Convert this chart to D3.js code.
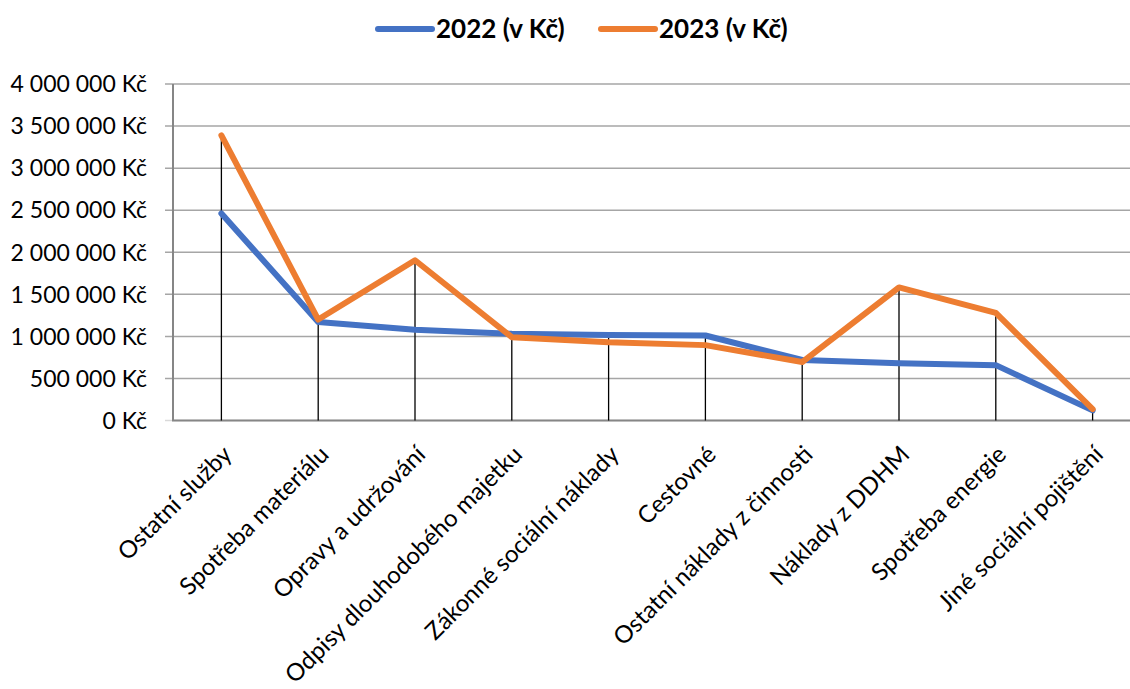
<!DOCTYPE html>
<html>
<head>
<meta charset="utf-8">
<script src="https://cdn.jsdelivr.net/npm/d3@7"></script>
<style>
  body { margin: 0; background: white; }
  text { font-family: Lato, "Open Sans", sans-serif; fill: black; }
</style>
</head>
<body>
<div class="chart"></div>
<script>
    var categories = ["Ostatní služby", "Spotřeba materiálu", "Opravy a udržování",
                      "Odpisy dlouhodobého majetku", "Zákonné sociální náklady", "Cestovné",
                      "Ostatní náklady z činnosti", "Náklady z DDHM", "Spotřeba energie",
                      "Jiné sociální pojištění"];
    var values2022 = [2460000, 1170000, 1080000, 1030000, 1015000, 1010000, 720000, 680000, 658000, 120000];
    var values2023 = [3390000, 1200000, 1905000, 990000, 930000, 896000, 695000, 1582000, 1280000, 135000];
    var yTicks = [0, 500000, 1000000, 1500000, 2000000, 2500000, 3000000, 3500000, 4000000];
    var seriesNames = ["2022 (v Kč)", "2023 (v Kč)"];
    var seriesColors = ["#4472C4", "#ED7D31"];

    var svg = d3.select(".chart")
                .append("svg")
                .attr("width", 1130)
                .attr("height", 689)
                .style("background-color", "white");

    var x = d3.scaleBand()
              .domain(categories)
              .range([173, 1141]);

    var y = d3.scaleLinear()
              .domain([0, 4000000])
              .range([420.5, 84]);

    var czk = d3.formatLocale({decimal: ",", thousands: "\u00a0", grouping: [3], currency: ["", " Kč"]});
    var fmt = czk.format(",");

    // gridlines
    svg.append("g")
       .selectAll("line")
       .data(yTicks)
       .enter()
       .append("line")
       .attr("x1", 165)
       .attr("x2", 1130)
       .attr("y1", function(d) { return y(d); })
       .attr("y2", function(d) { return y(d); })
       .attr("stroke", function(d) { return d === 0 ? "#d9d9d9" : "#a6a6a6"; })
       .attr("stroke-width", 1.5);

    // y tick labels
    svg.append("g")
       .selectAll("text")
       .data(yTicks)
       .enter()
       .append("text")
       .attr("x", 147)
       .attr("y", function(d) { return y(d); })
       .attr("dy", "0.36em")
       .attr("text-anchor", "end")
       .style("font-size", "23px")
       .text(function(d) { return fmt(d) + " Kč"; });

    // axis lines
    svg.append("line")
       .attr("x1", x.range()[0]).attr("x2", x.range()[0])
       .attr("y1", y(4000000)).attr("y2", y(0))
       .attr("stroke", "#868686").attr("stroke-width", 2);
    svg.append("line")
       .attr("x1", x.range()[0] - 1).attr("x2", 1130)
       .attr("y1", y(0)).attr("y2", y(0))
       .attr("stroke", "#868686").attr("stroke-width", 2);

    // drop lines
    svg.append("g")
       .selectAll("line")
       .data(categories)
       .enter()
       .append("line")
       .attr("x1", function(d) { return x(d) + x.bandwidth() / 2; })
       .attr("x2", function(d) { return x(d) + x.bandwidth() / 2; })
       .attr("y1", function(d, i) { return y(Math.max(values2022[i], values2023[i])); })
       .attr("y2", y(0))
       .attr("stroke", "black")
       .attr("stroke-width", 1.3);

    // series lines
    var line = d3.line()
                 .x(function(d, i) { return x(categories[i]) + x.bandwidth() / 2; })
                 .y(function(d) { return y(d); });

    [values2022, values2023].forEach(function(vals, k) {
      svg.append("path")
         .datum(vals)
         .attr("d", line)
         .attr("fill", "none")
         .attr("stroke", seriesColors[k])
         .attr("stroke-width", 6)
         .attr("stroke-linejoin", "round")
         .attr("stroke-linecap", "round");
    });

    // category labels
    svg.append("g")
       .selectAll("text")
       .data(categories)
       .enter()
       .append("text")
       .attr("transform", function(d) {
         return "translate(" + (x(d) + x.bandwidth() / 2 + 6) + ",450) rotate(-45)";
       })
       .attr("text-anchor", "end")
       .attr("dy", "0.35em")
       .style("font-size", "24px")
       .text(function(d) { return d; });

    // legend
    var legendX = [378, 601];
    seriesNames.forEach(function(name, k) {
      svg.append("line")
         .attr("x1", legendX[k]).attr("x2", legendX[k] + 54)
         .attr("y1", 29).attr("y2", 29)
         .attr("stroke", seriesColors[k])
         .attr("stroke-width", 6)
         .attr("stroke-linecap", "round");
      svg.append("text")
         .attr("x", legendX[k] + 58)
         .attr("y", 29)
         .attr("dy", "0.36em")
         .style("font-size", "26px")
         .style("font-weight", "bold")
         .text(name);
    });
</script>
</body>
</html>
